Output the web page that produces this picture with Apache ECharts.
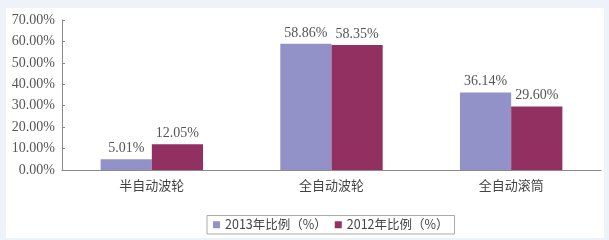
<!DOCTYPE html>
<html><head><meta charset="utf-8">
<script src="https://cdn.jsdelivr.net/npm/echarts@6/dist/echarts.min.js"></script>
<style>
html,body{margin:0;padding:0;background:#eef3f9;}
#c{position:absolute;left:6px;top:8px;width:598px;height:230px;background:#fff;}
</style></head>
<body><div id="c"></div>
<script>
const categories = ['半自动波轮', '全自动波轮', '全自动滚筒'];
const seriesNames = ['2013年比例（%）', '2012年比例（%）'];
const values2013 = [5.01, 58.86, 36.14];
const values2012 = [12.05, 58.35, 29.60];
const yTicks = [0, 10, 20, 30, 40, 50, 60, 70];

const chart = echarts.init(document.getElementById('c'));
const labelFont = "'Liberation Serif','DejaVu Serif','Noto Sans CJK SC',serif";
chart.setOption({
  animation: false,
  legend: {
    bottom: 4, left: 201,
    data: seriesNames,
    itemWidth: 7, itemHeight: 7, itemGap: 8,
    icon: 'rect',
    borderColor: '#aaaaaa', borderWidth: 1, padding: [3, 6, 3, 6],
    textStyle: { fontFamily: "'Noto Sans CJK SC',sans-serif", fontSize: 12.5, color: '#444' }
  },
  grid: { left: 56, right: 3, top: 12, bottom: 68 },
  xAxis: {
    type: 'category', data: categories,
    axisLine: { lineStyle: { color: '#8a8a8a' } },
    axisTick: { inside: true, length: 3, lineStyle: { color: '#8a8a8a' } },
    axisLabel: { fontFamily: "'Noto Sans CJK SC',sans-serif", fontSize: 13, color: '#444', margin: 9 }
  },
  yAxis: {
    type: 'value', min: yTicks[0], max: yTicks[yTicks.length - 1], interval: 10,
    axisLine: { show: true, lineStyle: { color: '#8a8a8a' } },
    axisTick: { show: true, inside: true, length: 3, lineStyle: { color: '#8a8a8a' } },
    splitLine: { show: false },
    axisLabel: { formatter: v => v.toFixed(2) + '%', fontFamily: labelFont, fontSize: 14, color: '#555', margin: 7 }
  },
  series: [
    { name: seriesNames[0], type: 'bar', data: values2013, barGap: '0%', barCategoryGap: '43%',
      itemStyle: { color: '#9292c9' },
      label: { show: true, position: 'top', formatter: p => p.value.toFixed(2) + '%', fontFamily: labelFont, fontSize: 14, color: '#555', distance: 4 } },
    { name: seriesNames[1], type: 'bar', data: values2012, barGap: '0%', barCategoryGap: '43%',
      itemStyle: { color: '#923161' },
      label: { show: true, position: 'top', formatter: p => p.value.toFixed(2) + '%', fontFamily: labelFont, fontSize: 14, color: '#555', distance: 4 } }
  ]
});
</script></body></html>
